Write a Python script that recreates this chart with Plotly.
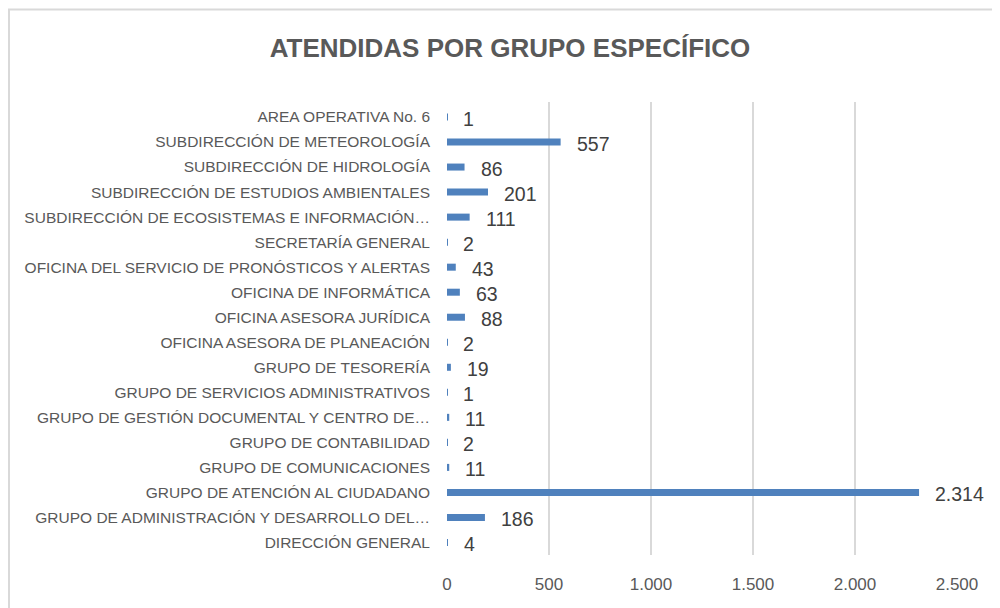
import plotly.graph_objects as go

# === Data (top to bottom as shown)
categories = [
    "AREA OPERATIVA No. 6",
    "SUBDIRECCIÓN DE METEOROLOGÍA",
    "SUBDIRECCIÓN DE HIDROLOGÍA",
    "SUBDIRECCIÓN DE ESTUDIOS AMBIENTALES",
    "SUBDIRECCIÓN DE ECOSISTEMAS E INFORMACIÓN…",
    "SECRETARÍA GENERAL",
    "OFICINA DEL SERVICIO DE PRONÓSTICOS Y ALERTAS",
    "OFICINA DE INFORMÁTICA",
    "OFICINA ASESORA JURÍDICA",
    "OFICINA ASESORA DE PLANEACIÓN",
    "GRUPO DE TESORERÍA",
    "GRUPO DE SERVICIOS ADMINISTRATIVOS",
    "GRUPO DE GESTIÓN DOCUMENTAL Y CENTRO DE…",
    "GRUPO DE CONTABILIDAD",
    "GRUPO DE COMUNICACIONES",
    "GRUPO DE ATENCIÓN AL CIUDADANO",
    "GRUPO DE ADMINISTRACIÓN Y DESARROLLO DEL…",
    "DIRECCIÓN GENERAL",
]
values = [1, 557, 86, 201, 111, 2, 43, 63, 88, 2, 19, 1, 11, 2, 11, 2314, 186, 4]
x_ticks = [0, 500, 1000, 1500, 2000, 2500]

FONT = "Liberation Sans Narrow, Arial Narrow, Liberation Sans, Arial, sans-serif"
GREY = "#595959"

fig = go.Figure()
fig.add_trace(go.Bar(
    x=values, y=categories, orientation="h",
    marker=dict(color="#4f81bd", line=dict(width=0)),
    width=0.28,
    hoverinfo="x+y",
))

# value labels next to bar ends
for cat, v in zip(categories, values):
    txt = f"{v:,}".replace(",", ".")
    fig.add_annotation(
        x=v, y=cat, text=txt, showarrow=False,
        xanchor="left", yanchor="middle", xshift=14, yshift=-2,
        font=dict(family=FONT, size=19.5, color="#404040"),
    )

# outer chart border (page body adds an 8px offset, right/bottom fall off-screen)
fig.add_shape(
    type="rect", xref="paper", yref="paper",
    x0=-0.8588, x1=1.2, y0=-0.2, y1=1.204,
    line=dict(color="#d9d9d9", width=2), layer="below",
)

fig.update_layout(
    width=1000, height=608,
    margin=dict(l=439, r=51, t=94, b=61, autoexpand=False),
    paper_bgcolor="white", plot_bgcolor="white",
    separators=",.",
    title=dict(
        text="<b>ATENDIDAS POR GRUPO ESPECÍFICO</b>",
        x=0.502, xanchor="center", y=0.934, yanchor="middle",
        font=dict(family=FONT, size=26, color=GREY),
    ),
    showlegend=False,
    xaxis=dict(
        range=[0, 2500], tickvals=x_ticks,
        tickformat=",d", automargin=False,
        showgrid=True, gridcolor="#d9d9d9", gridwidth=1.5,
        zeroline=False, showline=False, ticks="",
        tickfont=dict(family=FONT, size=17, color=GREY),
        ticklabelstandoff=17,
    ),
    yaxis=dict(
        autorange="reversed", automargin=False,
        showgrid=False, zeroline=False,
        showline=False,
        ticks="", ticklabelstandoff=16,
        tickfont=dict(family="Liberation Sans, Arial, sans-serif", size=15.5, color=GREY),
    ),
)

fig.write_html("out.html")
